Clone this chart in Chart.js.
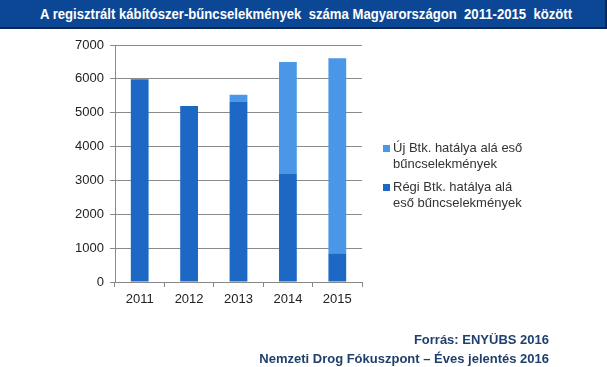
<!DOCTYPE html>
<html>
<head>
<meta charset="utf-8">
<script src="https://cdn.jsdelivr.net/npm/chart.js@4/dist/chart.umd.min.js"></script>
<style>
  html, body { margin: 0; padding: 0; background: #fff; }
  body { width: 607px; height: 367px; position: relative; overflow: hidden; font-family: "Liberation Sans", Arial, sans-serif; }
  #titlebar {
    position: absolute; left: 0; top: 0; width: 605px; height: 27px;
    background: #0c4796; border-bottom: 2px solid #0a2652; border-right: 2px solid #0a2a5c;
  }
  #title {
    position: absolute; left: 306px; top: 5px; transform-origin: 0 0;
    color: #fff; font-weight: bold; font-size: 15px; white-space: pre;
  }
  #wrap { position: absolute; left: 0; top: 0; width: 607px; height: 367px; }
  #legend { position: absolute; left: 383px; top: 140px; font-size: 13px; color: #333; line-height: 16px; }
  .item { position: relative; padding-left: 10px; margin-bottom: 7px; }
  .box { position: absolute; left: 0; top: 5px; width: 7px; height: 7px; }
  #footer {
    position: absolute; right: 58px; top: 330px; text-align: right;
    color: #1f3f6c; font-weight: bold; font-size: 13px; line-height: 19px;
  }
</style>
</head>
<body>
<div id="wrap"><canvas id="chart"></canvas></div>
<div id="titlebar"></div>
<div id="title">A regisztrált kábítószer-bűncselekmények  száma Magyarországon  2011-2015  között</div>
<div id="legend"></div>
<div id="footer">Forrás: ENYÜBS 2016<br>Nemzeti Drog Fókuszpont – Éves jelentés 2016</div>
<script>
const years = ['2011', '2012', '2013', '2014', '2015'];
const regiValues = [5990, 5200, 5330, 3190, 830];
const ujValues = [0, 0, 200, 3310, 5780];
const seriesNames = [['Régi Btk. hatálya alá', 'eső bűncselekmények'], ['Új Btk. hatálya alá eső', 'bűncselekmények']];
const seriesColors = ['#1c68c4', '#4b97e7'];
const yTicks = [0, 1000, 2000, 3000, 4000, 5000, 6000, 7000];

const tickFont = { family: '"Liberation Sans", Arial, sans-serif', size: 13 };

// squeeze the title to the narrow width of the original
const title = document.getElementById('title');
const tw = title.offsetWidth;
const sx = Math.min(1, 532 / tw);
title.style.transform = 'translateX(' + (-tw * sx / 2) + 'px) scaleX(' + sx + ')';

new Chart(document.getElementById('chart'), {
  type: 'bar',
  data: {
    labels: years,
    datasets: [
      { label: seriesNames[0].join(' '), data: regiValues, backgroundColor: seriesColors[0], categoryPercentage: 1, barPercentage: 0.36 },
      { label: seriesNames[1].join(' '), data: ujValues, backgroundColor: seriesColors[1], categoryPercentage: 1, barPercentage: 0.36 }
    ]
  },
  options: {
    responsive: true,
    maintainAspectRatio: false,
    animation: false,
    layout: { padding: { left: 60, right: 245, top: 45, bottom: 60 } },
    plugins: { legend: { display: false }, tooltip: { enabled: false } },
    scales: {
      x: {
        stacked: true,
        afterFit: s => { s.height = 25; },
        grid: { display: true, drawOnChartArea: false, color: '#888', tickLength: 5, offset: true },
        border: { color: '#888' },
        ticks: { color: '#222', font: tickFont, padding: 5 }
      },
      y: {
        stacked: true,
        min: 0, max: 7000,
        afterFit: s => { s.width = 55; },
        afterBuildTicks: s => { s.ticks = yTicks.map(v => ({ value: v })); },
        grid: { color: '#8a8a8a', tickLength: 5 },
        border: { color: '#888' },
        ticks: { color: '#222', font: tickFont, padding: 6, callback: v => String(v) }
      }
    }
  }
});

// legend: newest series on top, like the original
const legend = document.getElementById('legend');
[1, 0].forEach(i => {
  const div = document.createElement('div');
  div.className = 'item';
  div.innerHTML = '<span class="box" style="background:' + seriesColors[i] + '"></span>' + seriesNames[i].join('<br>');
  legend.appendChild(div);
});
</script>
</body>
</html>
